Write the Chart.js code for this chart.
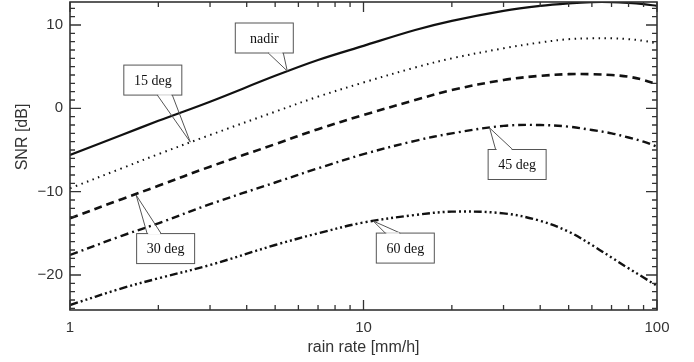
<!DOCTYPE html>
<html>
<head>
<meta charset="utf-8">
<style>
  html, body { margin: 0; padding: 0; background: #fff; }
  #wrap { width: 694px; height: 362px; }
</style>
<script src="https://cdn.jsdelivr.net/npm/chart.js@4/dist/chart.umd.min.js"></script>
</head>
<body>
<div id="wrap"><canvas id="snr"></canvas></div>
<script>
// SNR vs rain rate for several incidence angles
const rainRate = [1, 1.5, 2, 3, 5, 7, 10, 15, 20, 30, 40, 50, 60, 70, 80, 90, 100]
const snrNadir = [-5.6, -3.2, -1.5, 0.8, 3.9, 5.8, 7.5, 9.4, 10.5, 11.7, 12.3, 12.6, 12.75, 12.75, 12.65, 12.5, 12.3]
const snr15 = [-9.6, -7.2, -5.5, -3.2, -0.4, 1.4, 3.1, 4.9, 6.0, 7.2, 7.9, 8.3, 8.4, 8.4, 8.3, 8.1, 7.8]
const snr30 = [-13.2, -10.9, -9.3, -7.0, -4.3, -2.5, -0.8, 1.0, 2.2, 3.4, 3.9, 4.1, 4.1, 4.0, 3.8, 3.4, 2.9]
const snr45 = [-17.6, -15.3, -13.8, -11.5, -8.9, -7.2, -5.5, -3.9, -3.0, -2.1, -2.0, -2.2, -2.6, -3.0, -3.5, -4.0, -4.6]
const snr60 = [-23.6, -21.6, -20.4, -18.8, -16.4, -15.0, -13.7, -12.8, -12.4, -12.6, -13.5, -14.8, -16.4, -17.9, -19.2, -20.3, -21.3]

const xTicks = [1, 10, 100]
const xMinorTicks = [2, 3, 4, 5, 6, 7, 8, 9, 20, 30, 40, 50, 60, 70, 80, 90]
const yTicks = [-20, -10, 0, 10]
const yMinorTicks = []
for (let v = -24; v <= 12; v++) if (v % 10 !== 0) yMinorTicks.push(v)

// curve labels: text and the point on the curve the pointer touches
const calloutText = ["nadir", "15 deg", "30 deg", "45 deg", "60 deg"]
const calloutX = [5.5, 2.57, 1.68, 26.9, 10.8]
const calloutY = [4.48, -4.05, -10.41, -2.36, -13.53]

// box placement relative to the pointer tip (pixels) and where the pointer leaves the box
const calloutLayout = [
  { dx: -23, dy: -33, base: [4, 19] },
  { dx: -37.5, dy: -62, base: [4.5, 19.5] },
  { dx: 29.5, dy: 53.5, base: [-18.5, -4.5] },
  { dx: 27.5, dy: 36.5, base: [-21.5, -4.5] },
  { dx: 32, dy: 27, base: [-20, -5] }
]

const ink = "#111"
const axisInk = "#333"
const labelFont = "'Liberation Sans', Arial, sans-serif"

const toPoints = (ys) => rainRate.map((x, i) => ({ x, y: ys[i] }))

const series = [
  { label: "nadir", data: snrNadir, dash: [], width: 2.2 },
  { label: "15 deg", data: snr15, dash: [1.5, 4.5], width: 2 },
  { label: "30 deg", data: snr30, dash: [8, 5], width: 2.6 },
  { label: "45 deg", data: snr45, dash: [8, 4, 2, 4], width: 2.4 },
  { label: "60 deg", data: snr60, dash: [8, 3, 2, 3, 2, 3, 2, 3], width: 2.4 }
]

const frameAndTicks = {
  id: "frameAndTicks",
  afterDatasetsDraw(chart) {
    const { ctx, chartArea: a, scales: { x, y } } = chart
    ctx.save()
    ctx.strokeStyle = axisInk
    ctx.lineWidth = 1.3

    const vTick = (v, len) => {
      const py = y.getPixelForValue(v)
      ctx.moveTo(a.left, py); ctx.lineTo(a.left + len, py)
      ctx.moveTo(a.right, py); ctx.lineTo(a.right - len, py)
    }
    const hTick = (v, len) => {
      const px = x.getPixelForValue(v)
      ctx.moveTo(px, a.bottom); ctx.lineTo(px, a.bottom - len)
      ctx.moveTo(px, a.top); ctx.lineTo(px, a.top + len)
    }
    ctx.beginPath()
    yTicks.forEach((v) => vTick(v, 11))
    yMinorTicks.forEach((v) => vTick(v, 5))
    xTicks.forEach((v) => hTick(v, 10))
    xMinorTicks.forEach((v) => hTick(v, 5))
    ctx.stroke()

    ctx.lineWidth = 1.6
    ctx.strokeRect(a.left, a.top, a.right - a.left, a.bottom - a.top)

    // y axis title, drawn by hand so it sits where the original has it
    ctx.fillStyle = axisInk
    ctx.font = `16px ${labelFont}`
    ctx.textAlign = "center"
    ctx.textBaseline = "middle"
    ctx.translate(22.5, 137)
    ctx.rotate(-Math.PI / 2)
    ctx.fillText("SNR [dB]", 0, 0)
    ctx.restore()
  }
}

const callouts = {
  id: "callouts",
  afterDraw(chart) {
    const { ctx, scales: { x, y } } = chart
    const w = 58, h = 30
    ctx.save()
    ctx.font = "14px 'Liberation Serif', 'Times New Roman', serif"
    ctx.textAlign = "center"
    ctx.textBaseline = "middle"
    calloutText.forEach((text, i) => {
      const lay = calloutLayout[i]
      const tx = x.getPixelForValue(calloutX[i])
      const ty = y.getPixelForValue(calloutY[i])
      const cx = tx + lay.dx, cy = ty + lay.dy
      const left = cx - w / 2, top = cy - h / 2
      const edgeY = lay.dy < 0 ? top + h : top

      ctx.fillStyle = "#fff"
      ctx.fillRect(left, top, w, h)
      ctx.strokeStyle = "#555"
      ctx.lineWidth = 1
      ctx.strokeRect(left, top, w, h)

      // open pointer from the box edge down to the curve
      ctx.beginPath()
      ctx.moveTo(cx + lay.base[0], edgeY)
      ctx.lineTo(tx, ty)
      ctx.lineTo(cx + lay.base[1], edgeY)
      ctx.stroke()
      ctx.strokeStyle = "#fff"
      ctx.lineWidth = 1.4
      ctx.beginPath()
      ctx.moveTo(cx + lay.base[0] + 1, edgeY)
      ctx.lineTo(cx + lay.base[1] - 1, edgeY)
      ctx.stroke()

      ctx.fillStyle = ink
      ctx.fillText(text, cx, cy + 1)
    })
    ctx.restore()
  }
}

new Chart(document.getElementById("snr"), {
  type: "line",
  data: {
    datasets: series.map((s) => ({
      label: s.label,
      data: toPoints(s.data),
      borderColor: ink,
      borderWidth: s.width,
      borderDash: s.dash,
      pointRadius: 0,
      tension: 0.35,
      fill: false
    }))
  },
  options: {
    responsive: true,
    maintainAspectRatio: false,
    animation: false,
    layout: { padding: { top: 2, right: 37, left: 0, bottom: 0 } },
    plugins: { legend: { display: false }, tooltip: { enabled: false } },
    scales: {
      x: {
        type: "logarithmic",
        min: 1,
        max: 100,
        afterBuildTicks: (scale) => { scale.ticks = xTicks.map((v) => ({ value: v })) },
        afterFit: (scale) => {
          scale.height = 52
          scale.paddingLeft = 0
          scale.paddingRight = 0
        },
        grid: { display: false, drawTicks: false },
        border: { display: false },
        ticks: {
          color: axisInk,
          padding: 9,
          autoSkip: false,
          maxRotation: 0,
          font: { family: labelFont, size: 15 },
          callback: (v) => String(v)
        },
        title: {
          display: true,
          text: "rain rate [mm/h]",
          color: axisInk,
          font: { family: labelFont, size: 16 },
          padding: { top: 0, bottom: 5 }
        }
      },
      y: {
        min: -24.2,
        max: 12.76,
        afterBuildTicks: (scale) => { scale.ticks = yTicks.map((v) => ({ value: v })) },
        afterFit: (scale) => {
          scale.width = 70
          scale.paddingTop = 0
          scale.paddingBottom = 0
        },
        grid: { display: false, drawTicks: false },
        border: { display: false },
        ticks: {
          color: axisInk,
          padding: 7,
          font: { family: labelFont, size: 15 },
          callback: (v) => (v < 0 ? "\u2212" + Math.abs(v) : String(v))
        }
      }
    }
  },
  plugins: [frameAndTicks, callouts]
})
</script>
</body>
</html>
